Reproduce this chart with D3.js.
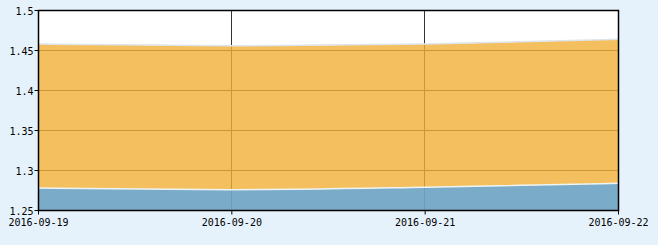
<!DOCTYPE html>
<html>
<head>
<meta charset="utf-8">
<script src="https://cdn.jsdelivr.net/npm/d3@7"></script>
<style>
    html, body { margin: 0; padding: 0; background: #e6f2fb; }
    svg text { font-family: "DejaVu Sans Mono", monospace; font-size: 10px; fill: #000; }
</style>
</head>
<body>
<div id="chart"></div>
<script>
// data
var dates = ['2016-09-19', '2016-09-20', '2016-09-21', '2016-09-22'];
var lowValues = [1.278, 1.276, 1.279, 1.284];
var highValues = [1.458, 1.456, 1.458, 1.464];
var yTicks = [1.25, 1.3, 1.35, 1.4, 1.45, 1.5];

var view = { width: 658, height: 245 };
var box = { left: 38.5, right: 618.5, top: 10.5, bottom: 210.5 };

var svg = d3.select('#chart')
    .append('svg')
    .attr('width', view.width)
    .attr('height', view.height);

var x = d3.scalePoint().domain(dates).range([box.left, box.right]);
var y = d3.scaleLinear().domain([1.25, 1.5]).range([box.bottom, box.top]);

// plot background
svg.append('rect')
    .attr('x', box.left).attr('y', box.top)
    .attr('width', box.right - box.left).attr('height', box.bottom - box.top)
    .attr('fill', '#fff');

// grid lines (under the semi-transparent areas)
var grid = svg.append('g').attr('stroke', '#333').attr('stroke-width', 1);
grid.selectAll('.vgrid')
    .data(dates.slice(1, -1))
    .enter().append('line')
    .attr('x1', function(d) { return Math.round(x(d)) - 0.5; })
    .attr('x2', function(d) { return Math.round(x(d)) - 0.5; })
    .attr('y1', box.top).attr('y2', box.bottom);
grid.selectAll('.hgrid')
    .data(yTicks.slice(1, -1))
    .enter().append('line')
    .attr('x1', box.left).attr('x2', box.right)
    .attr('y1', function(d) { return y(d); })
    .attr('y2', function(d) { return y(d); });

var rows = dates.map(function(d, i) {
    return { date: d, low: lowValues[i], high: highValues[i] };
});

var bandArea = d3.area()
    .curve(d3.curveMonotoneX)
    .x(function(d) { return x(d.date); })
    .y0(function(d) { return y(d.low); })
    .y1(function(d) { return y(d.high); });

var baseArea = d3.area()
    .curve(d3.curveMonotoneX)
    .x(function(d) { return x(d.date); })
    .y0(y(1.25))
    .y1(function(d) { return y(d.low); });

var topLine = d3.line().curve(d3.curveMonotoneX)
    .x(function(d) { return x(d.date); })
    .y(function(d) { return y(d.high); });
var lowLine = d3.line().curve(d3.curveMonotoneX)
    .x(function(d) { return x(d.date); })
    .y(function(d) { return y(d.low); });

svg.append('path').datum(rows)
    .attr('d', bandArea)
    .attr('fill', 'rgb(241,176,55)')
    .attr('fill-opacity', 0.8);

svg.append('path').datum(rows)
    .attr('d', baseArea)
    .attr('fill', 'rgb(112,166,198)')
    .attr('fill-opacity', 0.93);

svg.append('path').datum(rows)
    .attr('d', topLine)
    .attr('fill', 'none')
    .attr('stroke', '#dde4ea')
    .attr('stroke-width', 1.5);

svg.append('path').datum(rows)
    .attr('d', lowLine)
    .attr('fill', 'none')
    .attr('stroke', '#eef3f4')
    .attr('stroke-width', 1.5);

// frame
svg.append('rect')
    .attr('x', box.left).attr('y', box.top)
    .attr('width', box.right - box.left).attr('height', box.bottom - box.top)
    .attr('fill', 'none')
    .attr('stroke', '#000')
    .attr('stroke-width', 1.5);

// y axis
var yAxis = svg.append('g');
yAxis.selectAll('.ytick')
    .data(yTicks)
    .enter().append('line')
    .attr('x1', box.left - 4).attr('x2', box.left)
    .attr('y1', function(d) { return y(d); })
    .attr('y2', function(d) { return y(d); })
    .attr('stroke', '#000');
yAxis.selectAll('.ylabel')
    .data(yTicks)
    .enter().append('text')
    .attr('x', box.left - 5)
    .attr('y', function(d) { return y(d) + 4; })
    .attr('text-anchor', 'end')
    .text(function(d) { return d3.format('')(+d.toFixed(2)); });

// x axis
var xAxis = svg.append('g');
xAxis.selectAll('.xtick')
    .data(dates)
    .enter().append('line')
    .attr('x1', function(d) { return x(d); })
    .attr('x2', function(d) { return x(d); })
    .attr('y1', box.bottom).attr('y2', box.bottom + 4)
    .attr('stroke', '#000');
xAxis.selectAll('.xlabel')
    .data(dates)
    .enter().append('text')
    .attr('x', function(d) { return x(d); })
    .attr('y', box.bottom + 15)
    .attr('text-anchor', 'middle')
    .text(function(d) { return d; });
</script>
</body>
</html>
